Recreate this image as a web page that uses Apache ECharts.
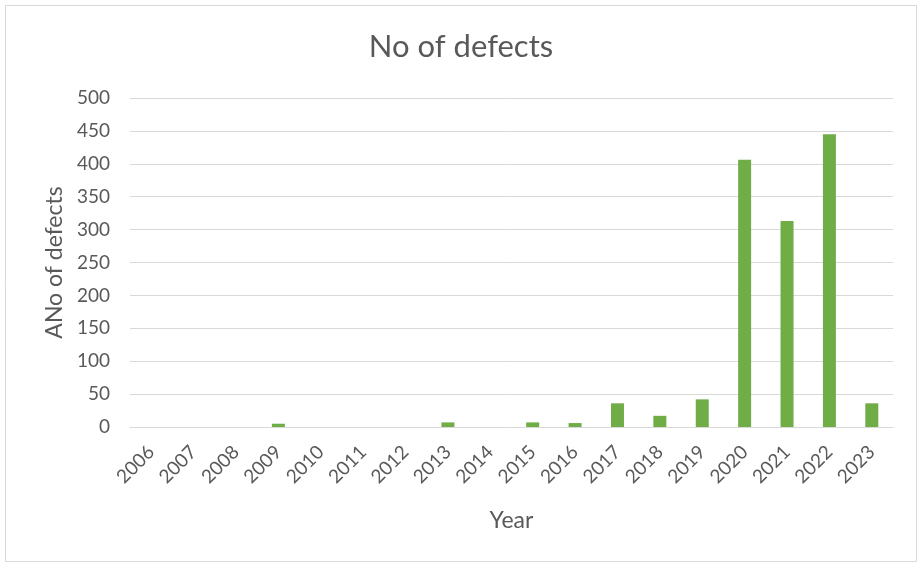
<!DOCTYPE html>
<html>
<head>
<meta charset="utf-8">
<script src="https://cdn.jsdelivr.net/npm/echarts@6/dist/echarts.min.js"></script>
<style>
  html, body { margin: 0; padding: 0; background: #fff; }
  #chart { width: 922px; height: 567px; }
</style>
</head>
<body>
<div id="chart"></div>
<script>
// Yearly defect counts
const years = ['2006','2007','2008','2009','2010','2011','2012','2013','2014','2015','2016','2017','2018','2019','2020','2021','2022','2023'];
const defects = [0, 0, 0, 5, 0, 0, 0, 7, 0, 7, 6, 36, 17, 42, 406, 313, 445, 36];
const yTicks = { min: 0, max: 500, interval: 50 };

const textGrey = '#595959';
const gridGrey = '#d9d9d9';
const font = 'Lato, "Open Sans", sans-serif';

const chart = echarts.init(document.getElementById('chart'), null, { renderer: 'canvas' });
chart.setOption({
  animation: false,
  backgroundColor: '#ffffff',
  title: {
    text: 'No of defects',
    left: 'center',
    top: 26,
    textStyle: { color: textGrey, fontFamily: font, fontSize: 31, fontWeight: 'normal' }
  },
  graphic: [{
    type: 'rect',
    shape: { x: 5.5, y: 5.5, width: 911, height: 556 },
    style: { fill: 'none', stroke: '#d9d9d9', lineWidth: 1 },
    silent: true
  }],
  grid: { left: 130, right: 29, top: 98, bottom: 140, containLabel: false },
  xAxis: {
    type: 'category',
    data: years,
    name: 'Year',
    nameLocation: 'middle',
    nameGap: 82,
    nameTextStyle: { color: textGrey, fontFamily: font, fontSize: 23 },
    axisLine: { lineStyle: { color: gridGrey, width: 1 } },
    axisTick: { show: false },
    axisLabel: { rotate: 45, color: textGrey, fontFamily: font, fontSize: 19, margin: 22, interval: 0 }
  },
  yAxis: {
    type: 'value',
    min: yTicks.min,
    max: yTicks.max,
    interval: yTicks.interval,
    name: 'ANo of defects',
    nameLocation: 'middle',
    nameGap: 64,
    nameTextStyle: { color: textGrey, fontFamily: font, fontSize: 23 },
    axisLine: { show: false },
    axisTick: { show: false },
    axisLabel: { color: textGrey, fontFamily: font, fontSize: 19, margin: 20 },
    splitLine: { lineStyle: { color: gridGrey, width: 1 } }
  },
  series: [{
    type: 'bar',
    data: defects,
    barWidth: 13,
    itemStyle: { color: '#70ad47' }
  }]
});
</script>
</body>
</html>
